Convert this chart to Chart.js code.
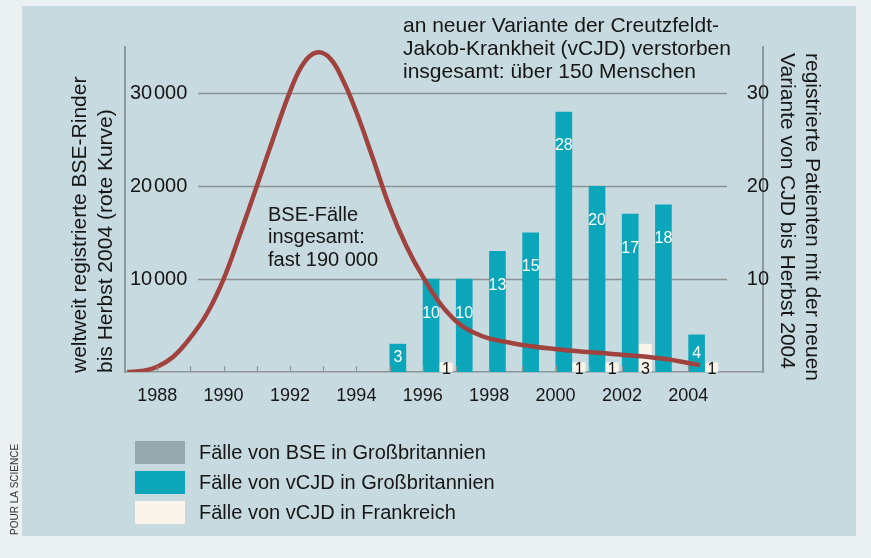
<!DOCTYPE html>
<html>
<head>
<meta charset="utf-8">
<title>BSE und vCJD</title>
<script src="https://cdn.jsdelivr.net/npm/chart.js"></script>
<style>
  html, body { margin: 0; padding: 0; background: #ebf0f3; }
  #wrap { position: relative; width: 871px; height: 558px; }
</style>
</head>
<body>
<div id="wrap"><canvas id="bseChart" width="871" height="558"></canvas></div>
<script>
// BSE cases per year (red curve, left axis)
const bseYears = [1987.1, 1987.6, 1988, 1988.5, 1989, 1989.5, 1990, 1990.5, 1991, 1991.5, 1992, 1992.4, 1992.8, 1993.2, 1993.6, 1994, 1994.5, 1995, 1995.5, 1996, 1996.7, 1997.5, 1998.7, 2000.2, 2001.7, 2003.2, 2004.35];
const bseCases = [0, 150, 570, 1700, 3700, 6300, 10000, 14900, 20000, 25200, 30200, 33200, 34400, 33800, 31400, 28000, 23000, 17800, 13600, 10300, 6600, 4300, 3100, 2400, 1950, 1450, 750];

// vCJD deaths per year (bars, right axis)
const ukYears = [1995, 1996, 1997, 1998, 1999, 2000, 2001, 2002, 2003, 2004];
const ukCases = [3, 10, 10, 13, 15, 28, 20, 17, 18, 4];
const frYears = [1996, 2000, 2001, 2002, 2004];
const frCases = [1, 1, 1, 3, 1];

// axis ticks
const xTickYears = [1988, 1990, 1992, 1994, 1996, 1998, 2000, 2002, 2004];
const leftTicks = [10000, 20000, 30000];
const rightTicks = [10, 20, 30];

// texts
const titleLines = ['an neuer Variante der Creutzfeldt-', 'Jakob-Krankheit (vCJD) verstorben', 'insgesamt: über 150 Menschen'];
const noteLines = ['BSE-Fälle', 'insgesamt:', 'fast 190 000'];
const leftTitle = ['weltweit registrierte BSE-Rinder', 'bis Herbst 2004 (rote Kurve)'];
const rightTitle = ['registrierte Patienten mit der neuen', 'Variante von CJD bis Herbst 2004'];
const legendLabels = ['Fälle von BSE in Großbritannien', 'Fälle von vCJD in Großbritannien', 'Fälle von vCJD in Frankreich'];
const credit = 'POUR LA SCIENCE';

const TEAL = '#0ca6bb';
const CREAM = '#faf4ea';
const GREY = '#98a9ad';
const CURVE = '#a0433e';
const FONT = '"Liberation Sans", Arial, sans-serif';
const legendColors = [GREY, TEAL, CREAM];

const decorPlugin = {
  id: 'decor',
  beforeDraw(chart) {
    const ctx = chart.ctx;
    ctx.save();
    ctx.fillStyle = '#ebf0f3';
    ctx.fillRect(0, 0, chart.width, chart.height);
    ctx.fillStyle = '#c6dadf';
    ctx.fillRect(22, 6, 834, 530);
    ctx.restore();
  },
  beforeDatasetsDraw(chart) {
    const ctx = chart.ctx;
    const area = chart.chartArea;
    const y = chart.scales.y;
    ctx.save();
    ctx.strokeStyle = '#8b9294';
    ctx.lineWidth = 1.5;
    leftTicks.forEach(v => {
      const py = Math.round(y.getPixelForValue(v)) + 0.5;
      ctx.beginPath();
      ctx.moveTo(area.left + 73, py);
      ctx.lineTo(area.right - 36, py);
      ctx.stroke();
    });
    ctx.restore();
  },
  afterDatasetsDraw(chart) {
    const ctx = chart.ctx;
    const x = chart.scales.x;
    const base = chart.scales.y.getPixelForValue(0);
    ctx.save();

    // year ticks on the baseline
    ctx.strokeStyle = '#8d9697';
    ctx.lineWidth = 1.2;
    for (let yr = 1988; yr <= 2004; yr++) {
      const px = Math.round(x.getPixelForValue(yr)) + 0.5;
      ctx.beginPath();
      ctx.moveTo(px, base - 6);
      ctx.lineTo(px, base);
      ctx.stroke();
    }

    // numbers on the bars
    ctx.textAlign = 'center';
    ctx.textBaseline = 'middle';
    ctx.font = '16px ' + FONT;
    ctx.fillStyle = '#ffffff';
    chart.getDatasetMeta(1).data.forEach((bar, i) => {
      const y = bar.y + Math.min(34, (bar.base - bar.y) / 2);
      ctx.fillText(String(ukCases[i]), bar.x, y);
    });
    ctx.fillStyle = '#111111';
    chart.getDatasetMeta(2).data.forEach((bar, i) => {
      ctx.fillText(String(frCases[i]), bar.x + 1, bar.base - 2);
    });

    ctx.fillStyle = '#161616';
    ctx.textAlign = 'left';
    ctx.font = '21px ' + FONT;
    titleLines.forEach((t, i) => ctx.fillText(t, 403, 26 + i * 23));
    ctx.font = '20px ' + FONT;
    noteLines.forEach((t, i) => ctx.fillText(t, 268, 215 + i * 22.5));

    // axis titles
    ctx.font = '21px ' + FONT;
    [80, 106].forEach((px, i) => {
      ctx.save();
      ctx.translate(px, 373);
      ctx.rotate(-Math.PI / 2);
      ctx.fillText(leftTitle[i], 0, 0);
      ctx.restore();
    });
    [812, 787].forEach((px, i) => {
      ctx.save();
      ctx.translate(px, 53);
      ctx.rotate(Math.PI / 2);
      ctx.fillText(rightTitle[i], 0, 0);
      ctx.restore();
    });

    // legend
    ctx.font = '20px ' + FONT;
    legendLabels.forEach((t, i) => {
      const top = 441 + i * 30;
      ctx.fillStyle = legendColors[i];
      ctx.fillRect(135, top, 50, 23);
      ctx.fillStyle = '#161616';
      ctx.fillText(t, 199, top + 12);
    });

    ctx.font = '10px ' + FONT;
    ctx.fillStyle = '#333333';
    ctx.save();
    ctx.translate(15, 535);
    ctx.rotate(-Math.PI / 2);
    ctx.fillText(credit, 0, 0);
    ctx.restore();

    ctx.restore();
  }
};

new Chart(document.getElementById('bseChart'), {
  type: 'bar',
  data: {
    datasets: [
      {
        type: 'line',
        label: 'BSE',
        data: bseYears.map((yr, i) => ({ x: yr, y: bseCases[i] })),
        yAxisID: 'y',
        borderColor: CURVE,
        borderWidth: 4.5,
        pointRadius: 0,
        fill: false,
        tension: 0.4,
        order: 0
      },
      {
        label: 'vCJD GB',
        data: ukYears.map((yr, i) => ({ x: yr + 0.25, y: ukCases[i] })),
        yAxisID: 'yR',
        backgroundColor: TEAL,
        barThickness: 16,
        grouped: false,
        order: 1
      },
      {
        label: 'vCJD F',
        data: frYears.map((yr, i) => ({ x: yr + 0.68, y: frCases[i] })),
        yAxisID: 'yR',
        backgroundColor: CREAM,
        barThickness: 14,
        grouped: false,
        order: 1
      }
    ]
  },
  options: {
    responsive: false,
    animation: false,
    layout: { padding: { left: 125, right: 108, top: 47, bottom: 146 } },
    plugins: { legend: { display: false }, tooltip: { enabled: false } },
    scales: {
      x: {
        type: 'linear',
        min: 1987.03,
        max: 2006.25,
        offset: false,
        grid: { display: false, drawTicks: false },
        border: { display: true, color: '#8d9697', width: 1.5 },
        afterBuildTicks: s => { s.ticks = xTickYears.map(v => ({ value: v })); },
        afterFit: s => { s.height = 40; },
        ticks: {
          padding: 13,
          color: '#161616',
          font: { family: FONT, size: 18 },
          callback: v => String(v)
        }
      },
      y: {
        position: 'left',
        min: 0,
        max: 35000,
        grid: { display: false, drawTicks: false },
        border: { display: true, color: '#8e999c', width: 2 },
        afterBuildTicks: s => { s.ticks = leftTicks.map(v => ({ value: v })); },
        afterFit: s => { s.width = 0; },
        ticks: {
          mirror: true,
          padding: 5,
          color: '#161616',
          font: { family: FONT, size: 20 },
          callback: v => (v / 1000) + '\u200A000'
        }
      },
      yR: {
        position: 'right',
        min: 0,
        max: 35,
        grid: { display: false, drawTicks: false },
        border: { display: true, color: '#8e999c', width: 2 },
        afterBuildTicks: s => { s.ticks = rightTicks.map(v => ({ value: v })); },
        afterFit: s => { s.width = 0; },
        ticks: {
          mirror: true,
          padding: 6,
          color: '#161616',
          font: { family: FONT, size: 20 },
          callback: v => String(v)
        }
      }
    }
  },
  plugins: [decorPlugin]
});
</script>
</body>
</html>
